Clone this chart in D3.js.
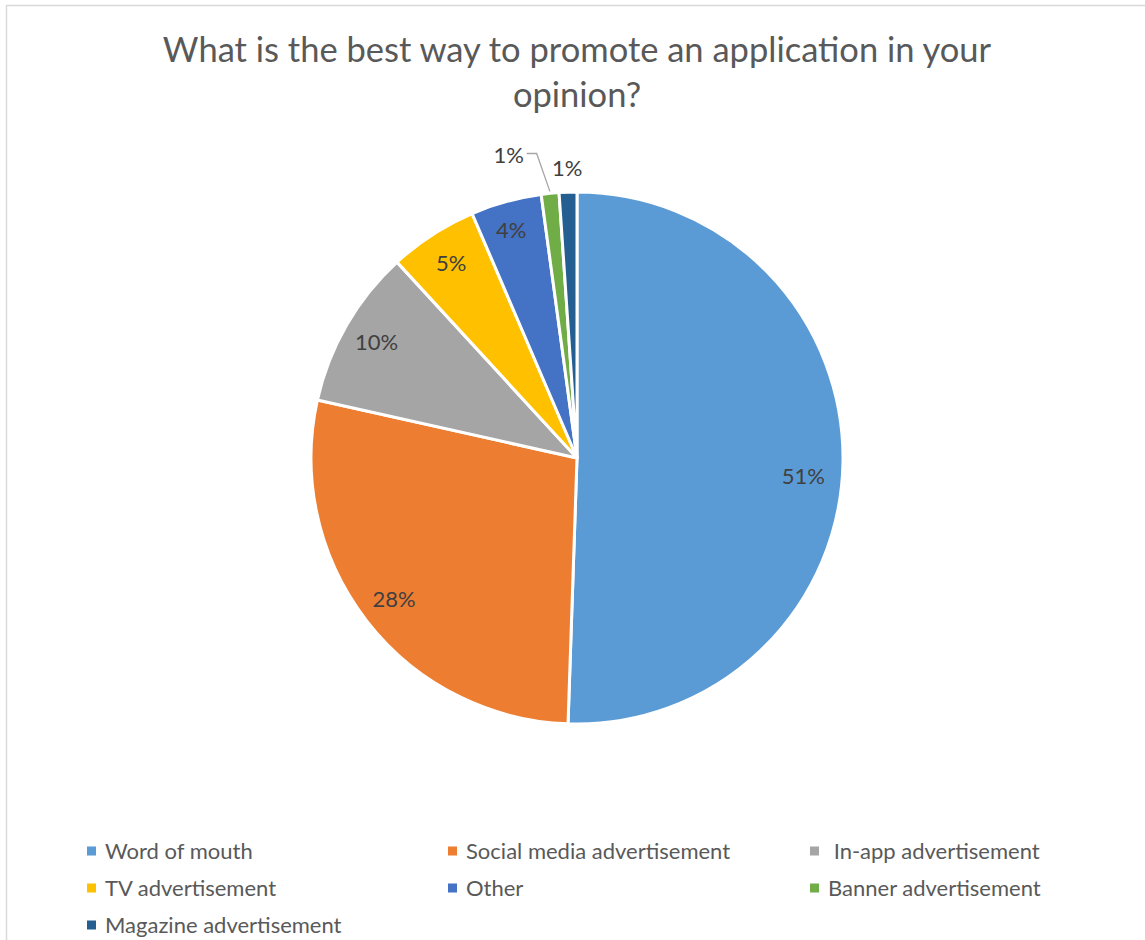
<!DOCTYPE html>
<html>
<head>
<meta charset="utf-8">
<script src="https://cdn.jsdelivr.net/npm/d3@7"></script>
<style>
  body { margin: 0; background: #fff; }
  svg { display: block; font-family: Lato, "Open Sans", sans-serif; }
</style>
</head>
<body>
<svg id="canvas" width="1145" height="940"></svg>
<script>
// ===== Data =====
const categories = [
  "Word of mouth",
  "Social media advertisement",
  " In-app advertisement",
  "TV advertisement",
  "Other",
  "Banner advertisement",
  "Magazine advertisement"
];
const responses = [47, 26, 9, 5, 4, 1, 1];
const colors = ["#5B9BD5", "#ED7D31", "#A5A5A5", "#FFC000", "#4472C4", "#70AD47", "#255E91"];
const titleLines = ["What is the best way to promote an application in your", "opinion?"];

const svg = d3.select("#canvas");
const W = 1145, H = 940;

// chart border (only top + left visible in the crop)
svg.append("path")
  .attr("d", `M6.5,${H} V5.5 H${W}`)
  .attr("fill", "none")
  .attr("stroke", "#d9d9d9")
  .attr("stroke-width", 1.5);

// ===== Title =====
svg.append("g")
  .selectAll("text")
  .data(titleLines)
  .enter()
  .append("text")
  .attr("x", 577)
  .attr("y", (d, i) => 62 + i * 45)
  .attr("text-anchor", "middle")
  .attr("fill", "#595959")
  .attr("font-size", "34.5px")
  .text(d => d);

// ===== Pie =====
const cx = 577, cy = 458, r = 266;
const total = d3.sum(responses);
const data = categories.map((c, i) => ({ name: c, value: responses[i], color: colors[i] }));

const pie = d3.pie().sort(null).value(d => d.value);
const arcs = pie(data);
const arc = d3.arc().innerRadius(0).outerRadius(r);
const labelArc = d3.arc().innerRadius(r * 0.87).outerRadius(r * 0.87);

const g = svg.append("g").attr("transform", `translate(${cx},${cy})`);

g.selectAll(".slice")
  .data(arcs)
  .enter()
  .append("path")
  .attr("class", "slice")
  .attr("d", arc)
  .attr("fill", d => d.data.color)
  .attr("stroke", "#fff")
  .attr("stroke-width", 3)
  .attr("stroke-linejoin", "round");

const pct = d => Math.round(d.data.value / total * 100) + "%";

// Excel "best fit" nudges a few labels
const nudge = { 0: [-5, 14], 4: [-4, -5] };

// labels inside for the bigger slices
g.selectAll(".lbl")
  .data(arcs.filter(d => d.data.value / total > 0.02))
  .enter()
  .append("text")
  .attr("class", "lbl")
  .attr("transform", d => {
    const [x, y] = labelArc.centroid(d);
    const [dx, dy] = nudge[d.index] || [0, 0];
    return `translate(${x + dx},${y + dy})`;
  })
  .attr("text-anchor", "middle")
  .attr("dy", "0.35em")
  .attr("fill", "#404040")
  .attr("font-size", "22px")
  .text(pct);

// small slices: labels outside
const small = arcs.filter(d => d.data.value / total <= 0.02);
const outArc = d3.arc().innerRadius(r + 24).outerRadius(r + 24);
const edgeArc = d3.arc().innerRadius(r + 2).outerRadius(r + 2);

small.forEach((d, k) => {
  const last = k === small.length - 1;
  let [x, y] = outArc.centroid(d);
  if (!last) {
    // shifted to the left, with a leader line
    x -= 39; y -= 14;
    const [ex, ey] = edgeArc.centroid(d);
    g.append("polyline")
      .attr("points", [[x + 18, y - 2], [x + 28, y - 2], [ex, ey]].join(" "))
      .attr("fill", "none")
      .attr("stroke", "#a6a6a6")
      .attr("stroke-width", 1.3);
  }
  g.append("text")
    .attr("x", x)
    .attr("y", y)
    .attr("text-anchor", "middle")
    .attr("dy", "0.35em")
    .attr("fill", "#404040")
    .attr("font-size", "22px")
    .text(pct(d));
});

// ===== Legend =====
const colX = [87, 448, 810];
const rowY = [851, 888, 925];
const legend = svg.append("g")
  .selectAll("g")
  .data(data)
  .enter()
  .append("g")
  .attr("transform", (d, i) => `translate(${colX[i % 3]},${rowY[Math.floor(i / 3)]})`);

legend.append("rect")
  .attr("x", 0)
  .attr("y", -4.5)
  .attr("width", 9)
  .attr("height", 9)
  .attr("fill", d => d.color);

legend.append("text")
  .attr("x", 18)
  .attr("dy", "0.35em")
  .attr("fill", "#595959")
  .attr("font-size", "22px")
  .style("white-space", "pre")
  .text(d => d.name);
</script>
</body>
</html>
